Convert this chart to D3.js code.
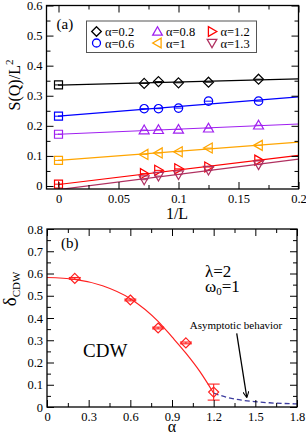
<!DOCTYPE html>
<html>
<head>
<meta charset="utf-8">
<script src="https://cdn.jsdelivr.net/npm/d3@7"></script>
<style>
body { margin: 0; background: #fff; }
text { font-family: "Liberation Serif", "Times New Roman", serif; }
</style>
</head>
<body>
<svg id="chart" width="306" height="435"></svg>
<script>
// ---- panel (a) data: S(Q)/L^2 vs 1/L ----
var invL = [0.0714, 0.0833, 0.1, 0.125, 0.1667];
var legendA = ["α=0.2", "α=0.6", "α=0.8", "α=1", "α=1.2", "α=1.3"];
var s02 = [0.341, 0.347, 0.343, 0.345, 0.355];
var s06 = [0.257, 0.257, 0.259, 0.282, 0.282];
var s08 = [0.186, 0.187, 0.188, 0.192, 0.202];
var s10 = [0.105, 0.110, 0.114, 0.126, 0.135];
var s12 = [0.041, 0.052, 0.057, 0.063, 0.086];
var s13 = [0.021, 0.033, 0.038, 0.053, 0.071];
var seriesA = [s02, s06, s08, s10, s12, s13];
var extrapA = [0.336, 0.232, 0.172, 0.085, 0.006, null];   // squares at 1/L = 0
var extrapErr = [0.002, 0.002, 0.002, 0.002, 0.010, 0];
var fitAt0 = [0.335, 0.232, 0.172, 0.085, 0.005, -0.012];
var fitAt02 = [0.356, 0.296, 0.206, 0.146, 0.102, 0.089];
var colorsA = ["#000000", "#0000ff", "#a020f0", "#ffa500", "#ff0000", "#b03060"];
var shapesA = ["diamond", "circle", "up", "left", "right", "down"];
var xTicksA = [0, 0.05, 0.1, 0.15, 0.2];
var yTicksA = [0, 0.1, 0.2, 0.3, 0.4, 0.5, 0.6];

// ---- panel (b) data: delta_CDW vs alpha ----
var alphaB = [0.2, 0.6, 0.8, 1.0, 1.2];
var deltaB = [0.578, 0.481, 0.355, 0.288, 0.067];
var errB = [0.004, 0.004, 0.004, 0.004, 0.036];
var fitAlpha = [0, 0.2, 0.4, 0.6, 0.8, 0.9, 1.0, 1.1, 1.2];
var fitDelta = [0.582, 0.574, 0.545, 0.487, 0.385, 0.315, 0.242, 0.16, 0.062];
var asymAlpha = [1.2, 1.3, 1.4, 1.5, 1.6, 1.7, 1.8];
var asymDelta = [0.062, 0.043, 0.031, 0.024, 0.019, 0.016, 0.014];
var arrowFrom = [1.366, 0.331];
var arrowTo = [1.438, 0.045];
var xTicksB = [0, 0.3, 0.6, 0.9, 1.2, 1.5, 1.8];
var yTicksB = [0, 0.1, 0.2, 0.3, 0.4, 0.5, 0.6, 0.7, 0.8];

var svg = d3.select("#chart");

svg.append("defs").append("marker")
    .attr("id", "arrow")
    .attr("viewBox", "0 0 10 10")
    .attr("refX", 9).attr("refY", 5)
    .attr("markerWidth", 5).attr("markerHeight", 5)
    .attr("markerUnits", "strokeWidth")
    .attr("orient", "auto")
  .append("path")
    .attr("d", "M0,0 L10,5 L0,10")
    .attr("fill", "none").attr("stroke", "#000").attr("stroke-width", 1.6);

// marker outline centred on 0,0
function shapePath(shape, r) {
  switch (shape) {
    case "diamond": return "M0," + (-r) + "L" + r + ",0L0," + r + "L" + (-r) + ",0Z";
    case "circle": return "M" + r + ",0A" + r + "," + r + " 0 1 1 " + (-r) + ",0A" + r + "," + r + " 0 1 1 " + r + ",0Z";
    case "square": return "M" + (-r) + "," + (-r) + "h" + 2 * r + "v" + 2 * r + "h" + (-2 * r) + "Z";
    case "up": return "M0," + (-r) + "L" + r + "," + 0.75 * r + "L" + (-r) + "," + 0.75 * r + "Z";
    case "down": return "M0," + r + "L" + r + "," + (-0.75 * r) + "L" + (-r) + "," + (-0.75 * r) + "Z";
    case "left": return "M" + (-r) + ",0L" + 0.75 * r + "," + (-r) + "L" + 0.75 * r + "," + r + "Z";
    case "right": return "M" + r + ",0L" + (-0.75 * r) + "," + (-r) + "L" + (-0.75 * r) + "," + r + "Z";
  }
}

// frame with inward ticks on all four sides
function drawFrame(g, x, y, xMajor, xMinor, yMajor, yMinor) {
  var x0 = x.range()[0], x1 = x.range()[1], y0 = y.range()[0], y1 = y.range()[1];
  var fmt = d3.format("");
  g.append("g").attr("transform", "translate(0," + y0 + ")")
      .call(d3.axisBottom(x).tickValues(xMajor).tickSizeInner(-7).tickSizeOuter(0).tickPadding(5).tickFormat(fmt));
  g.append("g").attr("transform", "translate(0," + y0 + ")")
      .call(d3.axisBottom(x).tickValues(xMinor).tickSize(-4).tickFormat(""));
  g.append("g").attr("transform", "translate(0," + y1 + ")")
      .call(d3.axisTop(x).tickValues(xMajor).tickSize(-7).tickFormat(""));
  g.append("g").attr("transform", "translate(0," + y1 + ")")
      .call(d3.axisTop(x).tickValues(xMinor).tickSize(-4).tickFormat(""));
  g.append("g").attr("transform", "translate(" + x0 + ",0)")
      .call(d3.axisLeft(y).tickValues(yMajor).tickSizeInner(-7).tickSizeOuter(0).tickPadding(4).tickFormat(fmt));
  g.append("g").attr("transform", "translate(" + x0 + ",0)")
      .call(d3.axisLeft(y).tickValues(yMinor).tickSize(-4).tickFormat(""));
  g.append("g").attr("transform", "translate(" + x1 + ",0)")
      .call(d3.axisRight(y).tickValues(yMajor).tickSize(-7).tickFormat(""));
  g.append("g").attr("transform", "translate(" + x1 + ",0)")
      .call(d3.axisRight(y).tickValues(yMinor).tickSize(-4).tickFormat(""));
  g.selectAll(".domain").remove();
  g.selectAll(".tick line").attr("stroke", "#000").attr("stroke-width", 1);
  g.selectAll(".tick text").filter(function () { return this.textContent === ""; }).remove();
  g.selectAll(".tick text").attr("fill", "#000").style("font-size", "12.5px")
      .style("font-family", '"Liberation Serif", serif');
  g.append("rect").attr("x", x0).attr("y", y1)
      .attr("width", x1 - x0).attr("height", y0 - y1)
      .attr("fill", "none").attr("stroke", "#000").attr("stroke-width", 1.3);
}

// =================== panel (a) ===================
var xa = d3.scaleLinear().domain([-0.01, 0.2]).range([46.5, 298.5]);
var ya = d3.scaleLinear().domain([-0.01, 0.6]).range([189, 5.5]);
var ga = svg.append("g");

ga.append("clipPath").attr("id", "clipA").append("rect")
    .attr("x", 46.5).attr("y", 5.5).attr("width", 252).attr("height", 183.5);
var plotA = ga.append("g").attr("clip-path", "url(#clipA)");

seriesA.forEach(function (vals, i) {
  var c = colorsA[i];
  plotA.append("line")
      .attr("x1", xa(0)).attr("y1", ya(fitAt0[i]))
      .attr("x2", xa(0.2)).attr("y2", ya(fitAt02[i]))
      .attr("stroke", c).attr("stroke-width", 1.2);
  var pts = vals.map(function (v, j) { return [invL[j], v]; });
  var eb = plotA.append("g").attr("stroke", c).attr("stroke-width", 1);
  pts.forEach(function (p) {
    eb.append("line").attr("x1", xa(p[0]) - 4).attr("x2", xa(p[0]) + 4)
        .attr("y1", ya(p[1])).attr("y2", ya(p[1]));
  });
  plotA.selectAll(null).data(pts).enter().append("path")
      .attr("transform", function (p) { return "translate(" + xa(p[0]) + "," + ya(p[1]) + ")"; })
      .attr("d", shapePath(shapesA[i], shapesA[i] == "circle" ? 4.2 : 5))
      .attr("fill", "none").attr("stroke", c).attr("stroke-width", 1.2);
  if (extrapA[i] !== null) {
    var e = extrapErr[i];
    plotA.append("line").attr("x1", xa(0) - 4).attr("x2", xa(0) + 4)
        .attr("y1", ya(extrapA[i])).attr("y2", ya(extrapA[i])).attr("stroke", c);
    plotA.append("line").attr("x1", xa(0)).attr("x2", xa(0))
        .attr("y1", ya(extrapA[i] - e)).attr("y2", ya(extrapA[i] + e)).attr("stroke", c);
    plotA.append("path")
        .attr("transform", "translate(" + xa(0) + "," + ya(extrapA[i]) + ")")
        .attr("d", shapePath("square", 4))
        .attr("fill", "none").attr("stroke", c).attr("stroke-width", 1.2);
  }
});

drawFrame(ga, xa, ya, xTicksA, [0.025, 0.075, 0.125, 0.175], yTicksA,
  [0.05, 0.15, 0.25, 0.35, 0.45, 0.55]);

// legend
var lg = ga.append("g");
lg.append("rect").attr("x", 86.5).attr("y", 21).attr("width", 170).attr("height", 31.5)
    .attr("fill", "#fff").attr("stroke", "#555").attr("stroke-width", 1);
var colX = [96.5, 157.5, 212];
var rowY = [31.5, 43];
legendA.forEach(function (lab, i) {
  var cx = colX[Math.floor(i / 2)], cy = rowY[i % 2];
  lg.append("path").attr("transform", "translate(" + cx + "," + cy + ")")
      .attr("d", shapePath(shapesA[i], shapesA[i] == "circle" ? 4 : 4.8))
      .attr("fill", "none").attr("stroke", colorsA[i]).attr("stroke-width", 1.3);
  lg.append("text").attr("x", cx + 8.5).attr("y", cy + 4.5)
      .style("font-size", "12.5px").text(lab);
});

ga.append("text").attr("x", 56.5).attr("y", 29).style("font-size", "15px").text("(a)");
ga.append("text").attr("x", 177).attr("y", 218.5).attr("text-anchor", "middle")
    .style("font-size", "16px").text("1/L");
var ylabA = ga.append("text").attr("transform", "translate(20,85) rotate(-90)")
    .attr("text-anchor", "middle").style("font-size", "16px");
ylabA.append("tspan").text("S(Q)/L");
ylabA.append("tspan").attr("dy", -7).style("font-size", "11px").text("2");

// =================== panel (b) ===================
var xb = d3.scaleLinear().domain([0, 1.8]).range([47, 297]);
var yb = d3.scaleLinear().domain([0, 0.8]).range([407, 229]);
var gb = svg.append("g");

var line = d3.line().x(function (d) { return xb(d[0]); }).y(function (d) { return yb(d[1]); });

gb.append("path")
    .attr("d", line.curve(d3.curveMonotoneX)(fitAlpha.map(function (a, i) { return [a, fitDelta[i]]; })))
    .attr("fill", "none").attr("stroke", "#ff2020").attr("stroke-width", 1.2);
gb.append("path")
    .attr("d", line.curve(d3.curveMonotoneX)(asymAlpha.map(function (a, i) { return [a, asymDelta[i]]; })))
    .attr("fill", "none").attr("stroke", "#3b3b9e").attr("stroke-width", 1.3)
    .attr("stroke-dasharray", "5,3");

var ptsB = alphaB.map(function (a, i) { return [a, deltaB[i], errB[i]]; });
var ebB = gb.append("g").attr("stroke", "#ff2020").attr("stroke-width", 1.1);
ptsB.forEach(function (p) {
  var x0 = xb(p[0]);
  ebB.append("line").attr("x1", x0).attr("x2", x0).attr("y1", yb(p[1] - p[2])).attr("y2", yb(p[1] + p[2]));
  ebB.append("line").attr("x1", x0 - 6).attr("x2", x0 + 6).attr("y1", yb(p[1] - p[2])).attr("y2", yb(p[1] - p[2]));
  ebB.append("line").attr("x1", x0 - 6).attr("x2", x0 + 6).attr("y1", yb(p[1] + p[2])).attr("y2", yb(p[1] + p[2]));
});
gb.selectAll(null).data(ptsB).enter().append("path")
    .attr("transform", function (p) { return "translate(" + xb(p[0]) + "," + yb(p[1]) + ")"; })
    .attr("d", shapePath("diamond", 5))
    .attr("fill", "none").attr("stroke", "#ff2020").attr("stroke-width", 1.2);

drawFrame(gb, xb, yb, xTicksB, [0.15, 0.45, 0.75, 1.05, 1.35, 1.65], yTicksB,
  [0.05, 0.15, 0.25, 0.35, 0.45, 0.55, 0.65, 0.75]);

gb.append("line")
    .attr("x1", xb(arrowFrom[0])).attr("y1", yb(arrowFrom[1]))
    .attr("x2", xb(arrowTo[0])).attr("y2", yb(arrowTo[1]))
    .attr("stroke", "#000").attr("stroke-width", 1.3).attr("marker-end", "url(#arrow)");

gb.append("text").attr("x", 61).attr("y", 248).style("font-size", "15px").text("(b)");
gb.append("text").attr("x", 83).attr("y", 357).style("font-size", "19px").text("CDW");
gb.append("text").attr("x", 205).attr("y", 277).style("font-size", "17px").text("λ=2");
var om = gb.append("text").attr("x", 205).attr("y", 292).style("font-size", "17px");
om.append("tspan").text("ω");
om.append("tspan").attr("dy", 3).style("font-size", "11px").text("0");
om.append("tspan").attr("dy", -3).text("=1");
gb.append("text").attr("x", 236).attr("y", 328.5).attr("text-anchor", "middle")
    .style("font-size", "11px").text("Asymptotic behavior");
gb.append("text").attr("x", 172).attr("y", 432).attr("text-anchor", "middle")
    .style("font-size", "16px").text("α");
var ylabB = gb.append("text").attr("transform", "translate(16,289) rotate(-90)")
    .attr("text-anchor", "middle").style("font-size", "19px");
ylabB.append("tspan").text("δ");
ylabB.append("tspan").attr("dy", 4).style("font-size", "11px").text("CDW");
</script>
</body>
</html>
